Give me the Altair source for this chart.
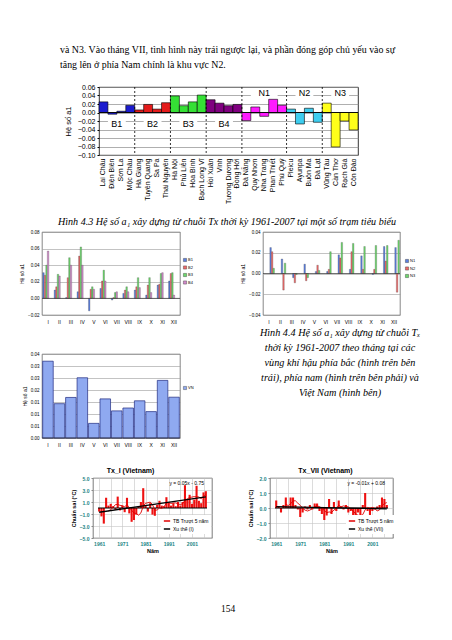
import altair as alt
import pandas as pd

# ---------------- data ----------------
para_lines = ["và N3. Vào tháng VII, tình hình này trái ngược lại, và phần đóng góp chủ yếu vào sự",
              "tăng lên ở phía Nam chính là khu vực N2."]
caption_43 = ["Hình 4.3 Hệ số a₁ xây dựng từ chuỗi Tx thời kỳ 1961-2007 tại một số trạm tiêu biểu"]
caption_44 = ["Hình 4.4 Hệ số a₁ xây dựng từ chuỗi Tₓ",
              "thời kỳ 1961-2007 theo tháng tại các",
              "vùng khí hậu phía bắc (hình trên bên",
              "trái), phía nam (hình trên bên phải) và",
              "Việt Nam (hình bên)"]
page_no = ["154"]

stations = ["Lai Châu", "Điện Biên", "Sơn La", "Mộc Châu",
            "Hà Giang", "Tuyên Quang", "Sa Pa", "Thái Nguyên",
            "Hà Nội", "Phủ Liễn", "Hòa Bình", "Bạch Long Vĩ",
            "Hồi Xuân", "Vinh", "Tương Dương", "Đồng Hới",
            "Đà Nẵng", "Quy Nhơn", "Nha Trang", "Phan Thiết", "Phú Quý",
            "Pleicu", "Ayunpa", "Buôn Ma", "Đà Lạt",
            "Vũng Tàu", "Cần Thơ", "Rạch Giá", "Côn Đảo"]
regions = ["B1"] * 4 + ["B2"] * 4 + ["B3"] * 4 + ["B4"] * 4 + ["N1"] * 5 + ["N2"] * 4 + ["N3"] * 4
a1_station = [0.025, -0.004, 0.003, 0.017,
              0.006, 0.019, 0.008, 0.023,
              0.039, 0.016, 0.025, 0.041,
              0.030, 0.022, 0.016, 0.019,
              -0.019, 0.013, -0.009, 0.031, 0.017,
              0.008, -0.027, 0.010, -0.023,
              0.022, -0.081, -0.020, -0.041]
region_names = ["B1", "B2", "B3", "B4", "N1", "N2", "N3"]
region_label_y = [-0.028, -0.028, -0.028, -0.028, 0.045, 0.045, 0.045]
ticks_43 = [-0.10, -0.08, -0.06, -0.04, -0.02, 0.00, 0.02, 0.04, 0.06]

months = ["I", "II", "III", "IV", "V", "VI", "VII", "VIII", "IX", "X", "XI", "XII"]
north_names = ["B1", "B2", "B3", "B4"]
north_b1 = [0.031, 0.010, 0.001, 0.008, -0.015, 0.012, -0.002, 0.006, 0.010, 0.004, 0.016, 0.021]
north_b2 = [0.028, 0.014, 0.025, 0.051, 0.011, 0.021, 0.001, 0.010, 0.014, 0.016, 0.017, 0.030]
north_b3 = [0.040, 0.029, 0.049, 0.062, 0.014, 0.034, 0.007, 0.014, 0.025, 0.025, 0.030, 0.031]
north_b4 = [0.057, 0.027, 0.040, 0.040, 0.011, 0.021, 0.008, 0.008, 0.013, 0.007, 0.031, 0.004]
ticks_north = [-0.02, 0.00, 0.02, 0.04, 0.06, 0.08]

south_names = ["N1", "N2", "N3"]
south_n1 = [0.025, 0.014, -0.004, 0.009, 0.002, 0.002, 0.018, 0.004, 0.017, -0.001, 0.026, 0.025]
south_n2 = [0.021, -0.016, -0.009, -0.007, 0.008, 0.004, 0.015, 0.021, 0.004, 0.004, 0.012, -0.018]
south_n3 = [0.005, 0.010, -0.001, -0.004, 0.003, 0.021, 0.030, 0.029, 0.026, 0.027, 0.027, 0.032]
ticks_south = [-0.04, -0.02, 0.00, 0.02, 0.04]

vn_names = ["VN"]
vn_a1 = [0.032, 0.0143, 0.0169, 0.0251, 0.0061, 0.0163, 0.0113, 0.0125, 0.0155, 0.011, 0.024, 0.017]
ticks_vn = [0.0, 0.005, 0.010, 0.015, 0.020, 0.025, 0.030, 0.035]

years = list(range(1961, 2008))
tx_jan = [-0.6, -1.4, -2.6, 1.7, 0.4, 0.7, 0.3, -0.3, 1.9, -0.4,
          0.4, -0.7, 1.7, -0.9, -2.3, -2.0, -1.1, 0.3, 1.0, 3.3,
          0.4, -0.6, 0.8, -1.1, -1.3, 0.5, 1.2, 0.4, 0.3, 1.8,
          0.9, 0.4, 0.8, 0.3, 1.0, 0.4, 1.0, 3.8, 1.4, 2.2,
          0.7, 1.4, 3.7, 1.2, 0.8, 2.6, 2.8]
tx_jul = [0.5, 0.1, -0.3, 0.2, 0.7, 0.1, 0.7, 0.7, 0.2, -0.1,
          -0.6, -0.3, 0.1, -0.1, 0.2, -0.1, 0.3, 0.3, -0.2, -0.4,
          -0.8, -0.5, 0.6, -0.4, 0.4, -0.2, 0.5, 0.1, -0.1, 0.2,
          -0.3, -0.2, -0.6, -1.0, -0.3, -0.5, 0.2, 1.0, -0.2, -0.6,
          -0.2, -0.1, 0.1, 0.2, 0.7, 0.6, 0.2]
ticks_jan = [-5.0, -3.0, -1.0, 1.0, 3.0, 5.0]
ticks_jul = [-2.0, -1.0, 0.0, 1.0, 2.0]
grid_years = list(range(1961, 2008, 5))

# ---------------- styles ----------------
region_colors = ["#1B1BCF", "#E41B1B", "#35E035", "#800080", "#FF1AFF", "#3DCDEF", "#FFFF1A"]
north_colors = ["#5B7FE0", "#EE6A6A", "#6CD86C", "#D28ACB"]
south_colors = ["#5B7FE0", "#EE6A6A", "#6CD86C"]
SANS = "Liberation Sans"
SERIF = "Liberation Serif"
TEAL = "#1B8585"

# layout (pixels)
PARA_X = [52, 52]
PARA_Y = [42, 57]
CAP43_X = [219]
CAP43_Y = [8]
CAP44_X = [160] * 5
CAP44_Y = [-21, -6, 9, 24, 39]
PAGE_X = [220]
PAGE_Y = [8]


def spacer(w, h):
    return alt.Chart(pd.DataFrame({"s": [0]})).mark_rect(opacity=0).encode(
        x=alt.value(0), x2=alt.value(w), y=alt.value(0), y2=alt.value(h)
    ).properties(width=w, height=h)


def text_chart(lines, xs, ys, w, h, size, style="normal", align="left"):
    df = pd.DataFrame({"t": lines, "px": xs, "py": ys})
    return alt.Chart(df).mark_text(
        font=SERIF, fontSize=size, fontStyle=style, align=align, baseline="middle", color="black"
    ).encode(
        x=alt.X("px:Q", scale=None, axis=None),
        y=alt.Y("py:Q", scale=None, axis=None),
        text="t:N",
    ).properties(width=w, height=h)


# ---------------- Fig 4.3 ----------------
df43 = pd.DataFrame({"station": stations, "region": regions, "a1": a1_station})
x43 = alt.Scale(domain=stations, paddingInner=0, paddingOuter=0)
y43 = alt.Scale(domain=[-0.10, 0.06], nice=False, zero=False)
xax43 = alt.Axis(title=None, labelAngle=-90, labelFontSize=7, labelPadding=3, ticks=False,
                 domain=False, labelColor="black", labelFont=SANS, grid=False)
yax43 = alt.Axis(values=ticks_43, format=".2f", title="Hệ số a1", titleFontSize=7.5,
                 titleFontWeight="normal", labelFontSize=7, labelColor="black",
                 grid=True, gridColor="#8c8c8c", gridWidth=0.7, tickSize=2,
                 tickColor="black", domain=False, labelPadding=2, titlePadding=5,
                 labelOverlap=False, labelFlush=False)

bars43 = alt.Chart(df43).mark_bar(stroke="black", strokeWidth=0.6).encode(
    x=alt.X("station:N", scale=x43, axis=xax43),
    y=alt.Y("a1:Q", scale=y43, axis=yax43),
    color=alt.Color("region:N", scale=alt.Scale(domain=region_names, range=region_colors), legend=None),
)

zero43 = alt.Chart(pd.DataFrame({"a1": [0.0]})).mark_rule(color="black", strokeWidth=0.9).encode(
    y=alt.Y("a1:Q", scale=y43, axis=yax43))

sep_df = pd.DataFrame({"station": [stations[i] for i in range(1, len(stations)) if regions[i] != regions[i - 1]]})
seps = alt.Chart(sep_df).mark_rule(color="black", strokeDash=[2, 2], strokeWidth=0.8).encode(
    x=alt.X("station:N", scale=x43, bandPosition=0, axis=xax43)
)

bg_rows, lab_even, lab_odd = [], [], []
for r, ly in zip(region_names, region_label_y):
    m = [i for i, rr in enumerate(regions) if rr == r]
    k = len(m)
    mid = m[k // 2 - 1:k // 2 + 1] if k % 2 == 0 else m[k // 2 - 1:k // 2 + 2]
    for i in mid:
        bg_rows.append({"station": stations[i], "a1": ly - 0.010, "a1_top": ly + 0.010})
    row = {"station": stations[m[k // 2]], "label": r, "a1": ly}
    (lab_even if k % 2 == 0 else lab_odd).append(row)

bg = alt.Chart(pd.DataFrame(bg_rows)).mark_rect(color="white").encode(
    x=alt.X("station:N", scale=x43, axis=xax43),
    y=alt.Y("a1:Q", scale=y43, axis=yax43), y2="a1_top:Q")
lab1 = alt.Chart(pd.DataFrame(lab_even)).mark_text(font=SANS, fontSize=9, color="black").encode(
    x=alt.X("station:N", scale=x43, bandPosition=0, axis=xax43),
    y=alt.Y("a1:Q", scale=y43, axis=yax43), text="label:N")
lab2 = alt.Chart(pd.DataFrame(lab_odd)).mark_text(font=SANS, fontSize=9, color="black").encode(
    x=alt.X("station:N", scale=x43, bandPosition=0.5, axis=xax43),
    y=alt.Y("a1:Q", scale=y43, axis=yax43), text="label:N")

fig43 = alt.layer(bars43, bg, zero43, seps, lab1, lab2).properties(
    width=259, height=68, view=alt.ViewBackground(stroke="black", strokeWidth=0.8))


# ---------------- monthly charts ----------------
def monthly(names, series, colors, ticks, domain, w, h, legend_x, legend_y,
            pad_inner=0.06, stroke="#3a3a3a", stroke_w=0.25):
    rows = []
    for n, vals in zip(names, series):
        for mth, v in zip(months, vals):
            rows.append({"month": mth, "series": n, "a1": v})
    df = pd.DataFrame(rows)
    ys = alt.Scale(domain=domain, nice=False, zero=False)
    yax = alt.Axis(values=ticks, format=".2f", title="Hệ số a1", titleFontSize=5,
                   titleFontWeight="normal", labelFontSize=4.5, labelColor="black",
                   grid=True, gridColor="#9a9a9a", gridWidth=0.6, ticks=False, domain=False,
                   labelPadding=3, titlePadding=3, labelOverlap=False, labelFlush=False)
    enc = dict(
        x=alt.X("month:N", scale=alt.Scale(domain=months, paddingInner=pad_inner, paddingOuter=0.06),
                axis=alt.Axis(title=None, labelAngle=0, labelFontSize=5, labelPadding=4, ticks=False,
                              domain=False, labelColor="black", grid=False)),
        y=alt.Y("a1:Q", scale=ys, axis=yax),
        color=alt.Color("series:N", scale=alt.Scale(domain=names, range=colors),
                        legend=alt.Legend(orient="none", legendX=legend_x, legendY=legend_y, title=None,
                                          symbolType="square", symbolSize=10, labelFontSize=4,
                                          rowPadding=1.5, symbolStrokeColor="#333", symbolStrokeWidth=0.4,
                                          labelOffset=1)),
    )
    if len(names) > 1:
        enc["xOffset"] = alt.XOffset("series:N", scale=alt.Scale(domain=names, paddingInner=0, paddingOuter=0))
    bars = alt.Chart(df).mark_bar(stroke=stroke, strokeWidth=stroke_w).encode(**enc)
    zero = alt.Chart(pd.DataFrame({"a1": [0.0]})).mark_rule(color="#333333", strokeWidth=0.7).encode(
        y=alt.Y("a1:Q", scale=ys, axis=yax))
    return alt.layer(bars, zero).properties(
        width=w, height=h, view=alt.ViewBackground(stroke="#555555", strokeWidth=0.7))


north = monthly(north_names, [north_b1, north_b2, north_b3, north_b4], north_colors,
                ticks_north, [-0.02, 0.08], 138, 83, 141, 26)
south = monthly(south_names, [south_n1, south_n2, south_n3], south_colors,
                ticks_south, [-0.04, 0.04], 137, 83, 142, 27)
vn = monthly(vn_names, [vn_a1], ["#8FA9F0"], ticks_vn, [0, 0.035], 138, 84, 141, 32,
             pad_inner=0.08, stroke="#1F2A80", stroke_w=0.7)


# ---------------- yearly anomaly charts ----------------
def anomaly(values, title, trend_name, eq, domain, ticks, w, h, legend_x, legend_y, title_dx):
    df = pd.DataFrame({"year": years, "value": values})
    xs = alt.Scale(domain=[1960.5, 2007.5], nice=False, zero=False)
    ys = alt.Scale(domain=domain, nice=False, zero=False)
    x_axis = alt.Axis(values=grid_years, labelExpr="(datum.value - 1961) % 10 == 0 ? datum.value : ''",
                      title="Năm", titleFontSize=5.5, titleFontWeight="bold", titleColor="black",
                      labelFontSize=5, labelColor=TEAL, labelFontWeight="bold", grid=True,
                      gridColor="#c4c4c4", gridWidth=0.6, ticks=False, domain=False,
                      labelPadding=3, titlePadding=2, labelFlush=False, labelOverlap=False)
    y_axis = alt.Axis(values=ticks, format=".1f", title="Chuẩn sai (°C)", titleFontSize=5.5,
                      titleFontWeight="bold", labelFontSize=5, labelColor=TEAL, labelFontWeight="bold",
                      grid=True, gridColor="#c4c4c4", gridWidth=0.6, tickSize=2, domain=False,
                      labelPadding=2, titlePadding=3, labelFlush=False, labelOverlap=False)
    X = alt.X("year:Q", scale=xs, axis=x_axis)
    base = alt.Chart(df)
    bars = base.mark_bar(color="#EE1111", size=2.1).encode(
        x=X, y=alt.Y("value:Q", scale=ys, axis=y_axis))
    zero = alt.Chart(pd.DataFrame({"year": [1960.5, 2007.5], "value": [0.0, 0.0]})).mark_line(
        color="black", strokeWidth=1.1).encode(x=X, y=alt.Y("value:Q", scale=ys, axis=y_axis))
    leg = alt.Legend(orient="none", legendX=legend_x, legendY=legend_y, title=None, symbolType="stroke",
                     symbolStrokeWidth=1.5, symbolSize=40, labelFontSize=5, rowPadding=1,
                     fillColor="white", padding=2, labelOffset=2)
    cscale = alt.Scale(domain=["TB Trượt 5 năm", trend_name], range=["#E00000", "#000000"])
    ma = base.transform_window(
        ma="mean(value)", n="count()", frame=[-4, 0], sort=[{"field": "year"}]
    ).transform_filter("datum.n == 5").transform_calculate(series="'TB Trượt 5 năm'").mark_line(
        strokeWidth=0.9).encode(x=X, y=alt.Y("ma:Q", scale=ys, axis=y_axis),
                                color=alt.Color("series:N", scale=cscale, legend=leg))
    trend = base.transform_regression("year", "value").transform_calculate(
        series="'" + trend_name + "'").mark_line(strokeWidth=1.3).encode(
        x=X, y=alt.Y("value:Q", scale=ys, axis=y_axis),
        color=alt.Color("series:N", scale=cscale, legend=leg))
    eqt = alt.Chart(pd.DataFrame({"t": [eq], "year": [2007.5], "value": [domain[1]]})).mark_text(
        font=SANS, fontSize=5, align="right", baseline="top", dx=-3, dy=3, color="black").encode(
        x=X, y=alt.Y("value:Q", scale=ys, axis=y_axis), text="t:N")
    return alt.layer(bars, zero, ma, trend, eqt).properties(
        width=w, height=h,
        title=alt.TitleParams(title, fontSize=7, fontWeight="bold", font=SANS, offset=2, dx=title_dx),
        view=alt.ViewBackground(stroke="#444444", strokeWidth=0.7))


tx1 = anomaly(tx_jan, "Tx_I (Vietnam)", "Xu thế (I)", "y = 0.05x - 0.75", [-5, 5], ticks_jan,
              119, 60, 68, 37, -22)
tx7 = anomaly(tx_jul, "Tx_VII (Vietnam)", "Xu thế (VII)", "y = -0.01x + 0.08", [-2, 2], ticks_jul,
              123, 60, 76, 37, -6)


def row(*charts):
    return alt.hconcat(*charts, spacing=0, bounds="flush").resolve_scale(
        color="independent").resolve_legend(color="independent")


page = alt.vconcat(
    row(text_chart(para_lines, PARA_X, PARA_Y, 420, 74, 9.9)),
    row(spacer(91, 127), fig43),
    row(text_chart(caption_43, CAP43_X, CAP43_Y, 420, 13, 10.1, style="italic", align="center")),
    row(spacer(34, 96), north, spacer(83, 96), south),
    row(spacer(34, 112), vn, text_chart(caption_44, CAP44_X, CAP44_Y, 245, 84, 10.2,
                                       style="italic", align="center")),
    row(spacer(85, 123), tx1, spacer(58, 123), tx7),
    row(text_chart(page_no, PAGE_X, PAGE_Y, 420, 16, 9.5, align="center")),
    spacing=0,
).resolve_scale(color="independent").resolve_legend(color="independent").properties(
    padding=0
).configure_view(stroke=None).configure_axis(
    labelFont=SANS, titleFont=SANS
).configure_legend(labelFont=SANS).configure_title(font=SANS)

page.save("out.html", embed_options={"renderer": "svg", "actions": False})
